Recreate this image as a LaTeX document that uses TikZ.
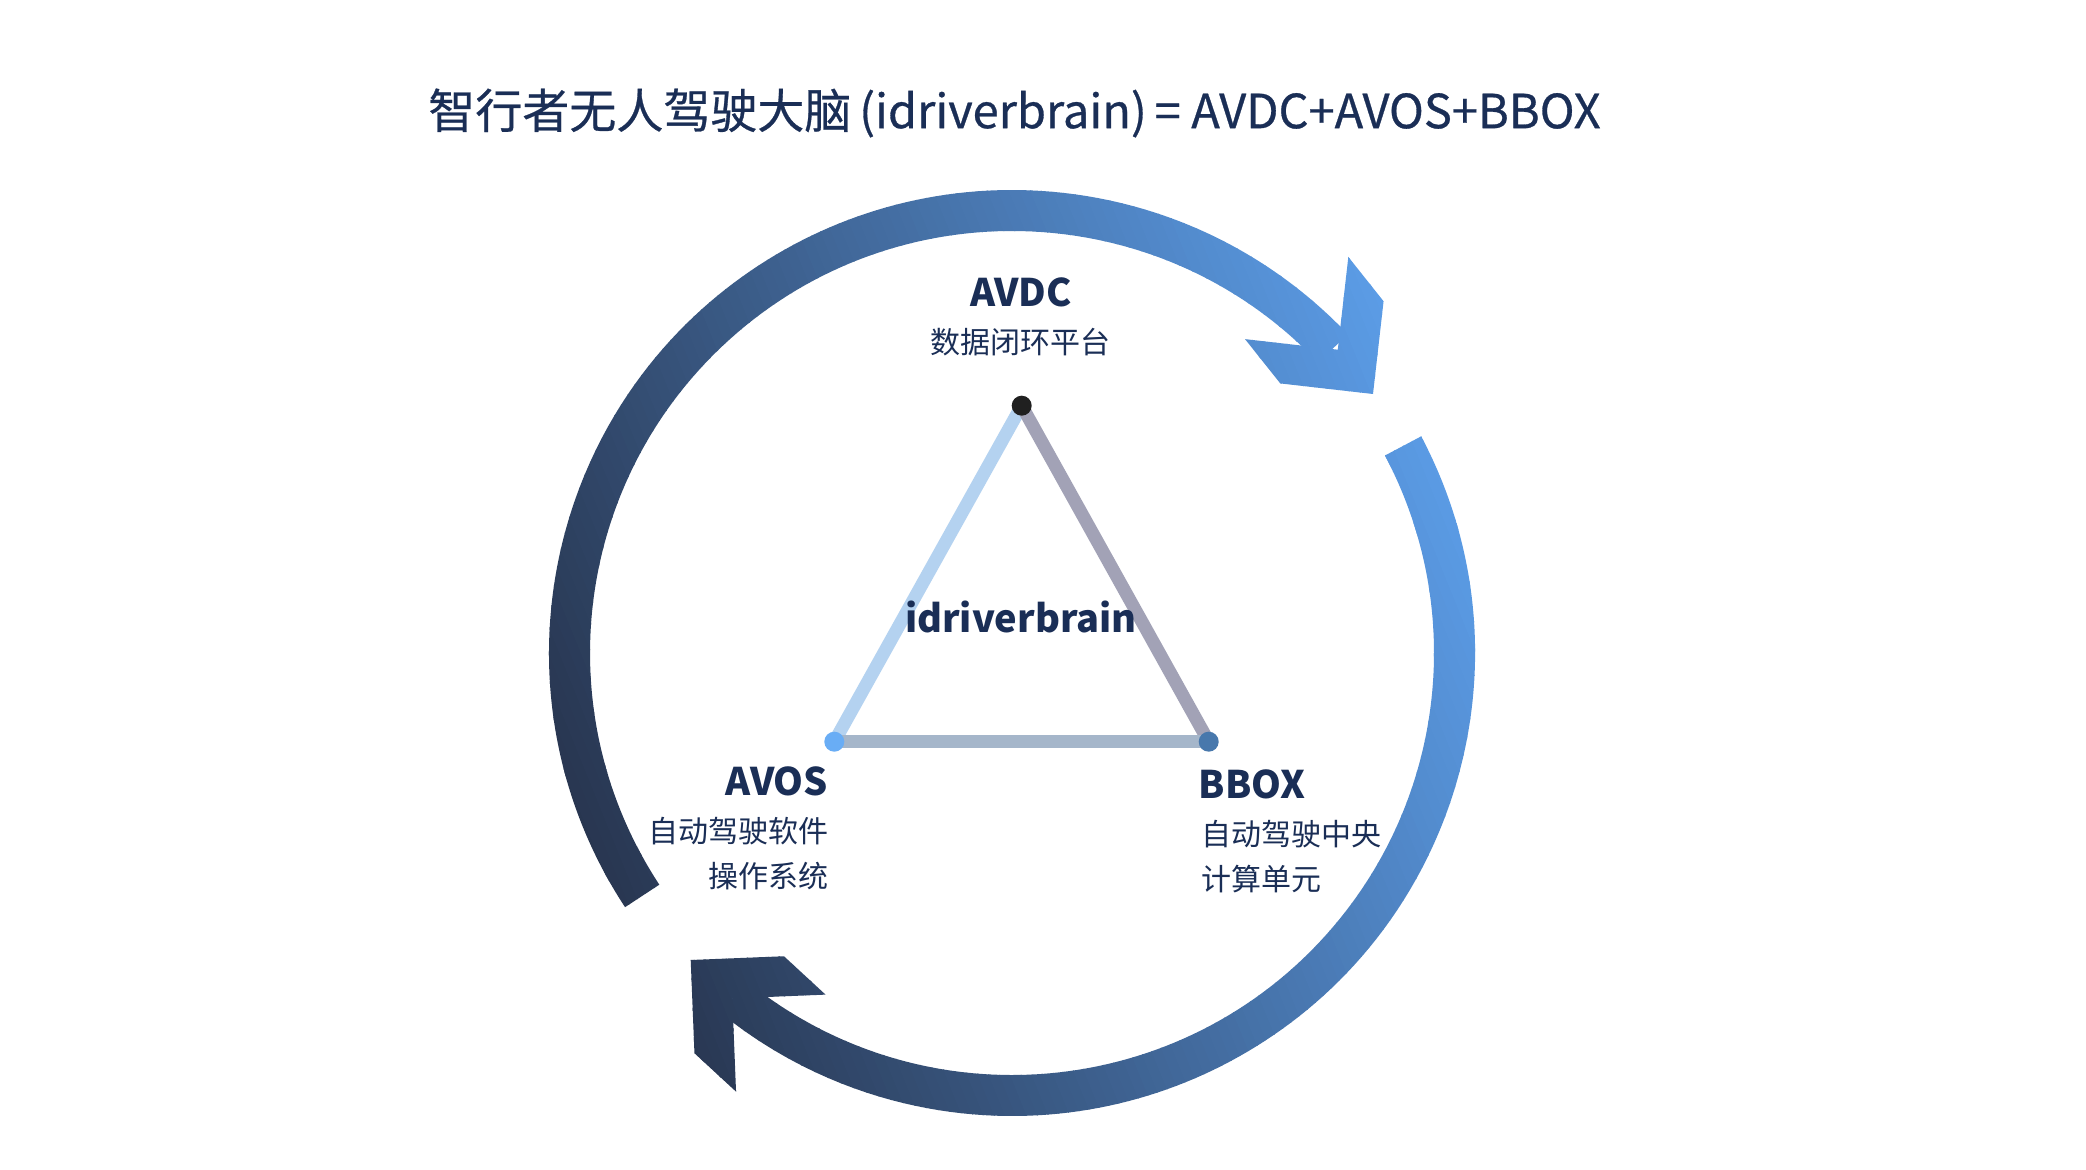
\documentclass[tikz,border=0pt]{standalone}
\usepackage{fontspec}
\setmainfont{Noto Sans CJK SC}
\newfontfamily\titlefont[FakeBold=0.6]{Noto Sans CJK SC}
\definecolor{txt}{RGB}{26,46,86}
\definecolor{gL}{RGB}{40,54,80}
\definecolor{gR}{RGB}{91,156,230}
\definecolor{dotA}{RGB}{32,32,32}
\definecolor{dotB}{RGB}{105,173,245}
\definecolor{dotC}{RGB}{72,120,172}
\definecolor{lnL}{RGB}{180,210,240}
\definecolor{lnR}{RGB}{162,162,182}
\definecolor{lnB}{RGB}{165,182,202}
\newcommand\ringgrad{%
  \begin{scope}[shift={(1012,517)},rotate=22]
    \foreach \i in {0,...,94}{%
      \pgfmathsetmacro\pp{100-\i*100/94}%
      \fill[gL!\pp!gR] (-470+\i*10,-520) rectangle (-470+\i*10+11,520);
    }
  \end{scope}}
\begin{document}
\begin{tikzpicture}[x=1pt,y=1pt,
  lbl/.style={text=txt, inner sep=0pt, font=\bfseries\fontsize{38pt}{42pt}\selectfont},
  sub/.style={text=txt, inner sep=0pt, font=\fontsize{30pt}{34pt}\selectfont},
  vdot/.style={circle, inner sep=0pt, minimum size=20pt},
  edge/.style={line width=13pt}]
\useasboundingbox[fill=white] (0,0) rectangle (2086,1170);

% arrow head corner points
\begin{scope}[shift={(1373,776)}, rotate=-51.5]
  \coordinate (h1t) at (0,0);
  \coordinate (h1a) at (-66,66);
  \coordinate (h1b) at (-122.6,66);
  \coordinate (h1c) at (-56.6,0);
  \coordinate (h1d) at (-122.6,-66);
  \coordinate (h1e) at (-66,-66);
\end{scope}
\begin{scope}[shift={(690.7,210)}, rotate=137.3]
  \coordinate (h2t) at (0,0);
  \coordinate (h2a) at (-66,66);
  \coordinate (h2b) at (-122.6,66);
  \coordinate (h2c) at (-56.6,0);
  \coordinate (h2d) at (-122.6,-66);
  \coordinate (h2e) at (-66,-66);
\end{scope}

% ring band 1 (over the top)
\begin{scope}
  \clip (1012,517) ++(213.3:463) arc[start angle=213.3,end angle=43.5,radius=463]
        -- ++(223.5:41) arc[start angle=43.5,end angle=213.3,radius=422] -- cycle;
  \ringgrad
\end{scope}
\begin{scope}
  \clip (h1t) -- (h1a) -- (h1b) -- (h1c) -- (h1d) -- (h1e) -- cycle;
  \ringgrad
\end{scope}
% ring band 2 (under the bottom)
\begin{scope}
  \clip (1012,517) ++(27.9:463) arc[start angle=27.9,end angle=-129,radius=463]
        -- ++(51:41) arc[start angle=-129,end angle=27.9,radius=422] -- cycle;
  \ringgrad
\end{scope}
\begin{scope}
  \clip (h2t) -- (h2a) -- (h2b) -- (h2c) -- (h2d) -- (h2e) -- cycle;
  \ringgrad
\end{scope}

% triangle
\coordinate (pA) at (1021.7,764.3);
\coordinate (pB) at (834.3,428.3);
\coordinate (pC) at (1208.7,428.3);
\draw[edge, lnL] (pA) -- (pB);
\draw[edge, lnR] (pA) -- (pC);
\draw[edge, lnB] (pB) -- (pC);
\node[vdot, fill=dotA] (avdcdot) at (pA) {};
\node[vdot, fill=dotB] (avosdot) at (pB) {};
\node[vdot, fill=dotC] (bboxdot) at (pC) {};

% texts
\node[text=txt, inner sep=0pt, font=\titlefont\fontsize{47pt}{51pt}\selectfont] (title) at (1014.5,1057)
  {智行者无人驾驶大脑\,(idriverbrain)\,= AVDC+AVOS+BBOX};
\node[lbl] (avdc) at (1021,877.5) {AVDC};
\node[sub] (avdcsub) at (1020.5,828) {数据闭环平台};
\node[lbl] (center) at (1020.8,553) {idriverbrain};
\node[lbl, anchor=east] (avos) at (828.3,389) {AVOS};
\node[sub, anchor=east] (avos1) at (828.3,338.6) {自动驾驶软件};
\node[sub, anchor=east] (avos2) at (828.3,294) {操作系统};
\node[lbl, anchor=west] (bbox) at (1198.7,386) {BBOX};
\node[sub, anchor=west] (bbox1) at (1201.7,336) {自动驾驶中央};
\node[sub, anchor=west] (bbox2) at (1201,291) {计算单元};
\end{tikzpicture}
\end{document}
